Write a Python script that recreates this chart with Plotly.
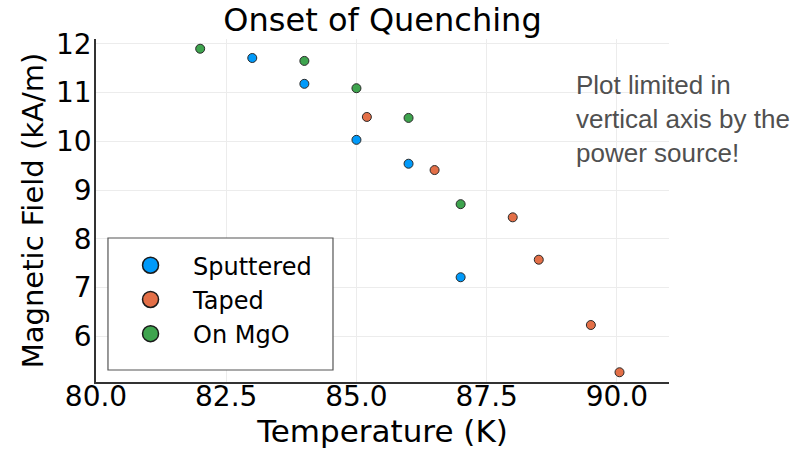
import plotly.graph_objects as go

# Data
sput_T = [83.0, 84.0, 85.0, 86.0, 87.0]
sput_H = [11.71, 11.18, 10.03, 9.54, 7.21]
taped_T = [85.2, 86.5, 88.0, 88.5, 89.5, 90.05]
taped_H = [10.5, 9.41, 8.44, 7.57, 6.23, 5.26]
mgo_T = [82.0, 84.0, 85.0, 86.0, 87.0]
mgo_H = [11.9, 11.65, 11.09, 10.48, 8.71]

names = ["Sputtered", "Taped", "On MgO"]
colors = ["#009AFA", "#E36F47", "#3EA44E"]
xticks = [80.0, 82.5, 85.0, 87.5, 90.0]
xtick_text = ["80.0", "82.5", "85.0", "87.5", "90.0"]
yticks = [6, 7, 8, 9, 10, 11, 12]

fig = go.Figure()
for (xs, ys), name, col in zip([(sput_T, sput_H), (taped_T, taped_H), (mgo_T, mgo_H)], names, colors):
    fig.add_trace(go.Scatter(x=xs, y=ys, mode="markers", name=name, showlegend=False,
                             marker=dict(size=9, color=col, line=dict(color="#2a2a2a", width=1))))
    fig.add_trace(go.Scatter(x=[None], y=[None], mode="markers", name=name, showlegend=True,
                             marker=dict(size=20, color=col, line=dict(color="#1a1a1a", width=1.5))))

font = "DejaVu Sans"
fig.update_layout(
    width=807, height=451,
    margin=dict(l=96, r=138, t=39, b=69),
    paper_bgcolor="white", plot_bgcolor="white",
    title=dict(text="Onset of Quenching", x=0.474, xanchor="center", y=0.955, yanchor="middle",
               font=dict(family=font, size=32, color="black")),
    xaxis=dict(range=[80.0, 91.0], tickvals=xticks, ticktext=xtick_text, automargin=False,
               showgrid=True, gridcolor="#ececec", gridwidth=1, zeroline=False,
               showline=True, linecolor="#333", linewidth=1.5, ticks="",
               ticklabelstandoff=-11,
               tickfont=dict(family=font, size=28, color="black"),
               title=dict(text="Temperature (K)", font=dict(family=font, size=31, color="black"), standoff=2)),
    yaxis=dict(range=[5.06, 12.1], tickvals=yticks, automargin=False,
               showgrid=True, gridcolor="#ececec", gridwidth=1, zeroline=False,
               showline=True, linecolor="#333", linewidth=1.5, ticks="",
               ticklabelstandoff=-3,
               tickfont=dict(family=font, size=28, color="black"),
               title=dict(text="Magnetic Field (kA/m)", font=dict(family=font, size=29, color="black"), standoff=4)),
    legend=dict(x=0.021, y=0.42, xanchor="left", yanchor="top",
                bgcolor="rgba(0,0,0,0)", borderwidth=0,
                font=dict(family=font, size=24, color="black"),
                title=dict(text=" ", font=dict(size=4)),
                itemwidth=75),
    shapes=[dict(type="rect", xref="paper", yref="paper", x0=0.0209, x1=0.4136, y0=0.035, y1=0.4198,
                 line=dict(color="#555", width=1.2), fillcolor="white", layer="above")],
    annotations=[dict(text="Plot limited in<br>vertical axis by the<br>power source!",
                      xref="paper", yref="paper", x=0.834, y=0.915, xanchor="left", yanchor="top",
                      align="left", showarrow=False,
                      font=dict(family="Liberation Sans", size=26, color="#505050"))],
)

fig.write_html("out.html")
